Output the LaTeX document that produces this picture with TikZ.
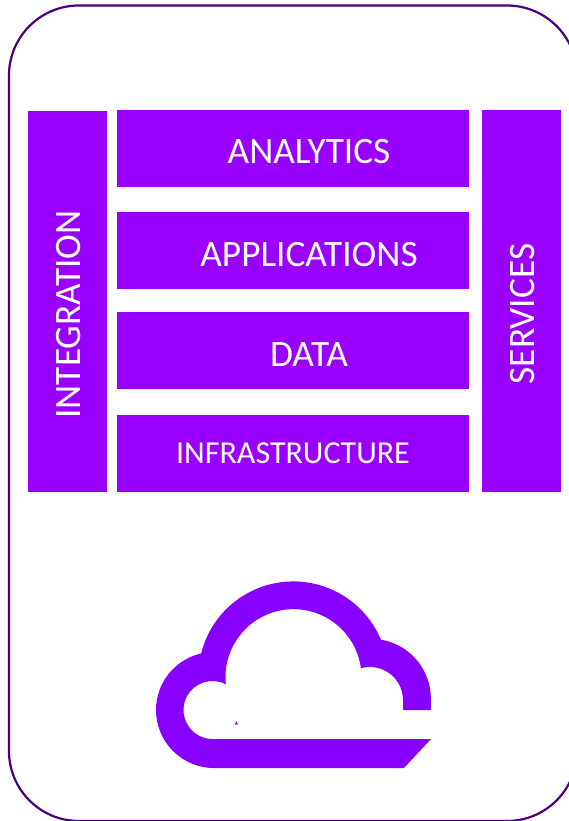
\documentclass[tikz,border=0pt]{standalone}
\usepackage{fontspec}
\setmainfont{Carlito}
\usetikzlibrary{positioning}
\definecolor{stackpurple}{HTML}{9900FF}
\definecolor{cloudpurple}{HTML}{8800FF}
\definecolor{framepurple}{HTML}{4B0082}
\newcommand{\layertext}[1]{\hspace*{32pt}\raisebox{-3.5pt}[\height][\depth]{#1}}
\newcommand{\sidetext}[1]{\rotatebox{90}{\raisebox{-1.5pt}[\height][\depth]{#1}\hspace*{26pt}}}
\begin{document}
\begin{tikzpicture}[x=1pt,y=-1pt,
	layer/.style={rectangle,fill=stackpurple,text=white,inner sep=0pt,minimum width=352pt,minimum height=77pt,font=\fontsize{37.3}{40}\selectfont},
	side/.style={rectangle,fill=stackpurple,text=white,inner sep=0pt,minimum width=79pt,font=\fontsize{37.3}{40}\selectfont}]
	\useasboundingbox (0,0) rectangle (568,821);
	\node[draw=framepurple,line width=2.2pt,rounded corners=70pt,minimum width=568pt,minimum height=815.5pt,inner sep=0pt] (frame) at (293,413.25) {};
	\node[layer] (analytics) at (293,148.5) {\layertext{ANALYTICS}};
	\node[layer] (applications) [below=25pt of analytics] {\layertext{APPLICATIONS}};
	\node[layer] (data) [below=22.5pt of applications] {\layertext{DATA}};
	\node[layer,font=\fontsize{32}{35}\selectfont] (infrastructure) [below=25.5pt of data] {INFRASTRUCTURE};
	\node[side,minimum height=381pt] (integration) at (67.5,301.5) {\sidetext{INTEGRATION}};
	\node[side,minimum height=382pt] (services) at (521.5,301) {\sidetext{SERVICES}};
	\fill[cloudpurple] (214,768) arc[start angle=90,end angle=257.2,radius=58]
		arc[start angle=194,end angle=337.2,radius=95]
		arc[start angle=279.6,end angle=360,radius=60]
		-- (431,710) -- (403,710) -- (403,700)
		arc[start angle=360,end angle=254,radius=33]
		arc[start angle=352.5,end angle=174,radius=68]
		arc[start angle=297.4,end angle=90,radius=29]
		-- (431,739) -- (404,768) -- cycle;
	\fill[cloudpurple] (234.8,724.5) -- (236.3,721) -- (237.8,724.5) -- cycle;
\end{tikzpicture}
\end{document}
